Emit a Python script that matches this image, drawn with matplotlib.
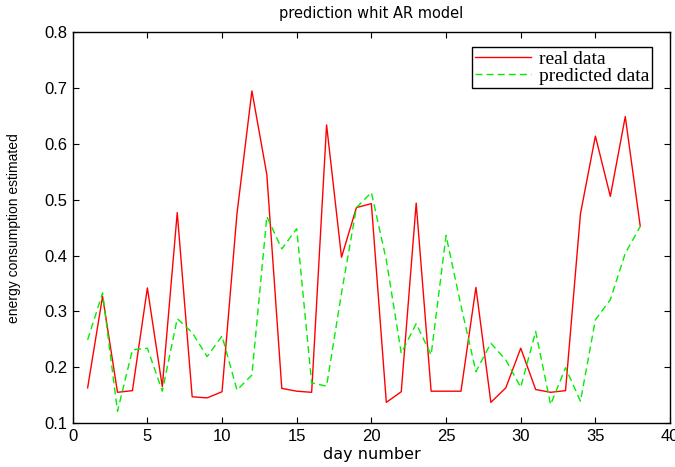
import matplotlib
matplotlib.use("Agg")
import matplotlib.pyplot as plt

# dias 1..38
dias = list(range(1, 39))
real = [0.163, 0.327, 0.155, 0.158, 0.342, 0.165, 0.477, 0.147, 0.145, 0.156,
        0.475, 0.695, 0.545, 0.162, 0.157, 0.155, 0.634, 0.397, 0.486, 0.493,
        0.137, 0.156, 0.494, 0.157, 0.157, 0.157, 0.343, 0.137, 0.163, 0.234,
        0.160, 0.155, 0.158, 0.475, 0.614, 0.506, 0.649, 0.453]
predicho = [0.249, 0.333, 0.121, 0.231, 0.234, 0.157, 0.287, 0.262, 0.219, 0.256,
            0.159, 0.186, 0.470, 0.412, 0.448, 0.172, 0.166, 0.333, 0.486, 0.513,
            0.392, 0.225, 0.278, 0.222, 0.436, 0.310, 0.192, 0.243, 0.213, 0.164,
            0.264, 0.133, 0.199, 0.139, 0.285, 0.321, 0.404, 0.452]

fig = plt.figure(figsize=(6.75, 4.67), dpi=100)
ax = fig.add_axes([0.1077, 0.0942, 0.885, 0.8366])

ax.plot(dias, real, color="#ff0000", lw=1.0, label="real data")
ax.plot(dias, predicho, color="#00ee00", lw=1.0, dashes=(5, 3), label="predicted data")

ax.set_xlim(0, 40)
ax.set_ylim(0.1, 0.8)
ax.set_xticks(range(0, 41, 5))
ax.set_yticks([0.1, 0.2, 0.3, 0.4, 0.5, 0.6, 0.7, 0.8])
ax.set_yticklabels(["0.1", "0.2", "0.3", "0.4", "0.5", "0.6", "0.7", "0.8"])
ax.tick_params(direction="in", top=True, right=True, length=4, labelsize=12, pad=4)
for lab in ax.get_xticklabels() + ax.get_yticklabels():
    lab.set_family("Liberation Sans")
for s in ax.spines.values():
    s.set_linewidth(1.0)

ax.set_title("prediction whit AR model", fontsize=10.5, family="DejaVu Sans", pad=10)
ax.set_xlabel("day number", fontsize=11.5, family="DejaVu Sans")
ax.xaxis.set_label_coords(0.5, -0.062)
ax.set_ylabel("energy consumption estimated", fontsize=10, family="Liberation Sans")
ax.yaxis.set_label_coords(-0.087, 0.5)

leg = ax.legend(loc="upper right", bbox_to_anchor=(0.97, 0.962), fancybox=False,
                framealpha=1, edgecolor="black", borderpad=0.15, labelspacing=0.0,
                handlelength=2.9, handletextpad=0.4, borderaxespad=0,
                prop={"family": "Liberation Serif", "size": 14})
leg.get_frame().set_linewidth(1.0)

fig.savefig("out.png", dpi=100)
plt.close()
